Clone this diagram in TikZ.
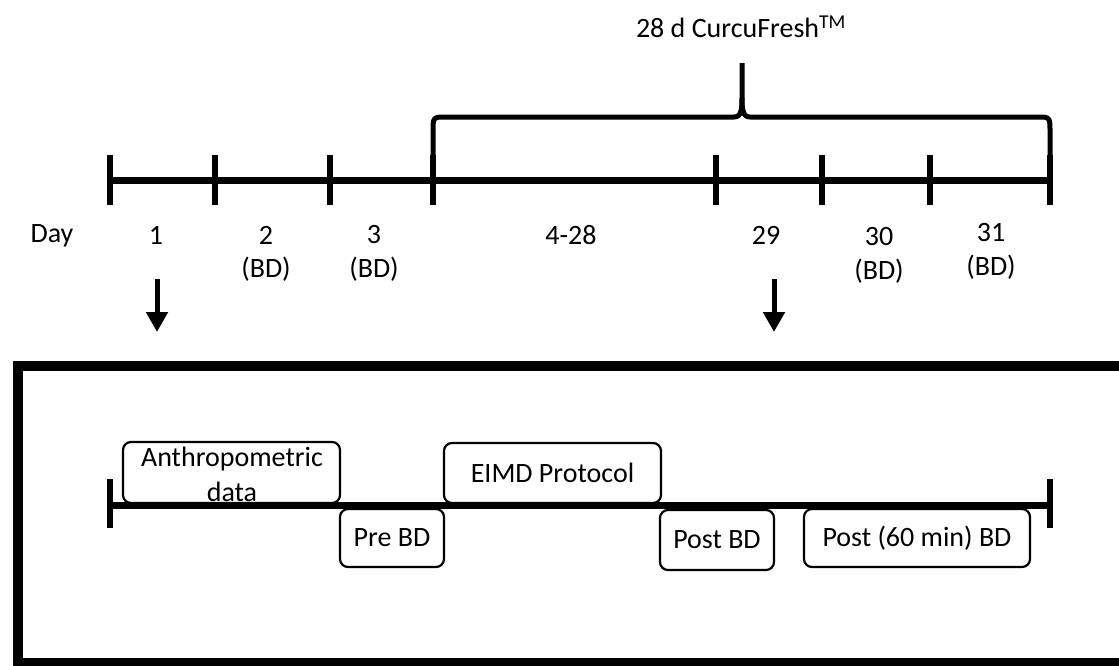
\documentclass[tikz,border=0pt]{standalone}
\usepackage{fontspec}
\setmainfont{Carlito}
\usetikzlibrary{arrows.meta, positioning}

\begin{document}
\begin{tikzpicture}[
  x=1pt, y=-1pt,
  lbl/.style = {inner sep=0pt, font=\fontsize{28}{35}\selectfont, align=center},
  evbox/.style = {draw, line width=2.2pt, rounded corners=8pt, inner sep=0pt, font=\fontsize{28}{35}\selectfont, align=center},
  tline/.style = {line width=7pt},
  tickmark/.style = {line width=6pt},
  brc/.style = {line width=5pt, line join=round},
  darr/.style = {-{Triangle[length=20pt,width=21pt]}, line width=5pt},
  outerframe/.style = {line width=10pt},
]
\useasboundingbox (0,0) rectangle (1119,665);

% study timeline
\coordinate (t0) at (110,180.5);
\coordinate (t8) at (1050,180.5);
\draw[tline] (t0) -- (t8);
\foreach \tx [count=\i] in {110,215,330,433,716,822,930,1050}
  \draw[tickmark] (\tx,155) -- (\tx,205);

% supplementation brace
\coordinate (bl) at (433,155);
\coordinate (br) at (1050,155);
\coordinate (bt) at (742,63);
\draw[brc] (bl) -- (433,132) .. controls (433,117) .. (446,117) -- (734,117)
  .. controls (741,117) and (742,110) .. (742,98) -- (bt);
\draw[brc] (br) -- (1050,132) .. controls (1050,117) .. (1037,117) -- (750,117)
  .. controls (743,117) and (742,110) .. (742,98);
\node[lbl] (title) at (741,27) {28 d CurcuFresh\textsuperscript{TM}};

% day labels
\node[lbl] (day) at (52,236) {Day};
\node[lbl] (d1) at (156,235) {1};
\node[lbl] (d2) at (266,235) {2};
\node[lbl] (bd2) at (266,269) {(BD)};
\node[lbl] (d3) at (374,235) {3};
\node[lbl] (bd3) at (374,269) {(BD)};
\node[lbl] (d4) at (571,235) {4-28};
\node[lbl] (d29) at (766,235) {29};
\node[lbl] (d30) at (879,237) {30};
\node[lbl] (bd30) at (879,271) {(BD)};
\node[lbl] (d31) at (991,233) {31};
\node[lbl] (bd31) at (991,267) {(BD)};

% arrows into the test day panel
\coordinate (a1s) at (157,279);
\coordinate (a1e) at (157,332);
\coordinate (a2s) at (774,279);
\coordinate (a2e) at (774,332);
\draw[darr] (a1s) -- (a1e);
\draw[darr] (a2s) -- (a2e);

% test day panel
\draw[outerframe] (18,366) rectangle (1130,663);
\node[evbox, minimum width=217pt, minimum height=61pt] (anth) at (231.5,472.5) {};
\node[lbl] (anthtxt) at (232,474) {Anthropometric\\data};
\node[evbox, minimum width=217pt, minimum height=60pt] (eimd) at (552.5,473) {EIMD Protocol};
\node[evbox, minimum width=104pt, minimum height=58pt] (pre) at (392,538) {Pre BD};
\node[evbox, minimum width=114pt, minimum height=60pt] (post) at (717,540) {Post BD};
\node[evbox, minimum width=226pt, minimum height=58pt] (post60) at (917,538) {Post (60 min) BD};
\coordinate (s0) at (110,505);
\coordinate (s1) at (1050,505);
\draw[tline] (s0) -- (s1);
\draw[tickmark] (110,479) -- (110,528);
\draw[tickmark] (1050,479) -- (1050,528);
\end{tikzpicture}
\end{document}
